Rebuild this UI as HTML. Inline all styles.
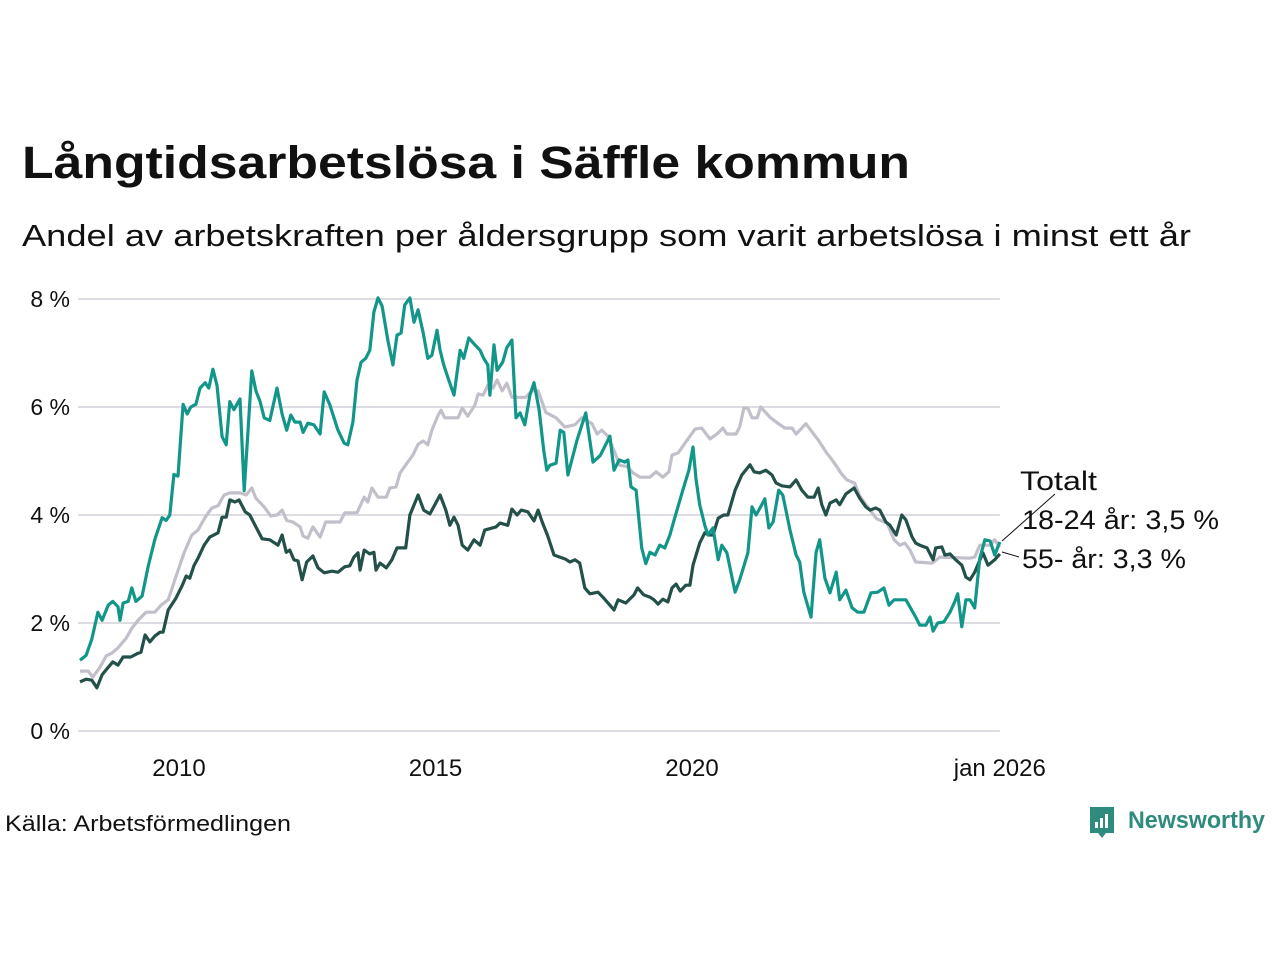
<!DOCTYPE html>
<html><head><meta charset="utf-8">
<style>
html,body{margin:0;padding:0;background:#fff;}
body{width:1280px;height:960px;overflow:hidden;font-family:"Liberation Sans","DejaVu Sans",sans-serif;}
svg text{font-family:"Liberation Sans","DejaVu Sans",sans-serif;}
</style></head>
<body>
<svg id="chart" width="1280" height="960" viewBox="0 0 1280 960" xmlns="http://www.w3.org/2000/svg">
<text x="22" y="178" font-size="45" font-weight="bold" fill="#111" textLength="888" lengthAdjust="spacingAndGlyphs">Långtidsarbetslösa i Säffle kommun</text>
<text x="22" y="246" font-size="31" fill="#111" textLength="1169" lengthAdjust="spacingAndGlyphs">Andel av arbetskraften per åldersgrupp som varit arbetslösa i minst ett år</text>
<g id="grid"></g>
<g id="yticks"></g>
<g id="xticks"></g>
<g id="series"></g>
<line x1="1002" y1="541" x2="1055" y2="494" stroke="#111" stroke-width="1"/>
<line x1="1002" y1="552" x2="1019" y2="557" stroke="#111" stroke-width="1"/>
<text x="1020" y="490" font-size="27" fill="#111" textLength="77" lengthAdjust="spacingAndGlyphs">Totalt</text>
<text x="1022" y="529" font-size="27" fill="#111" textLength="197" lengthAdjust="spacingAndGlyphs">18-24 år: 3,5 %</text>
<text x="1022" y="568" font-size="27" fill="#111" textLength="164" lengthAdjust="spacingAndGlyphs">55- år: 3,3 %</text>
<text x="5" y="831" font-size="22" fill="#111" textLength="286" lengthAdjust="spacingAndGlyphs">Källa: Arbetsförmedlingen</text>
<g>
<path d="M1090 807 h24 v26 h-8 l-4 5 l-4 -5 h-8 z" fill="#2e8b7e"/>
<rect x="1095" y="822" width="3" height="6" fill="#fff"/>
<rect x="1100" y="818" width="3" height="10" fill="#fff"/>
<rect x="1105" y="814" width="3" height="14" fill="#fff"/>
<text x="1128" y="828" font-size="24" font-weight="bold" fill="#2e8b7e" textLength="137" lengthAdjust="spacingAndGlyphs">Newsworthy</text>
</g>
</svg>
<script>
// years since 2000 / values in %
const datesYoung=[8.07,8.19,8.30,8.42,8.50,8.62,8.71,8.81,8.85,8.91,9.01,9.08,9.16,9.28,9.40,9.53,9.67,9.75,9.82,9.90,9.98,10.08,10.16,10.23,10.33,10.41,10.51,10.58,10.66,10.74,10.84,10.92,10.99,11.07,11.19,11.27,11.42,11.50,11.58,11.66,11.77,11.91,12.01,12.10,12.18,12.26,12.36,12.42,12.51,12.63,12.75,12.83,12.94,13.10,13.22,13.29,13.39,13.47,13.55,13.64,13.72,13.80,13.88,13.96,14.07,14.17,14.25,14.33,14.40,14.50,14.58,14.66,14.76,14.85,14.93,15.03,15.09,15.16,15.24,15.36,15.48,15.55,15.65,15.77,15.87,15.94,16.02,16.06,16.14,16.20,16.31,16.39,16.49,16.57,16.65,16.74,16.84,16.92,17.02,17.11,17.17,17.23,17.35,17.43,17.50,17.58,17.76,17.93,18.07,18.21,18.40,18.48,18.58,18.69,18.75,18.81,18.91,19.02,19.10,19.18,19.28,19.37,19.47,19.57,19.65,19.82,19.94,20.02,20.08,20.15,20.25,20.31,20.41,20.51,20.58,20.68,20.84,20.93,21.09,21.17,21.25,21.36,21.42,21.50,21.58,21.69,21.77,21.91,22.03,22.10,22.18,22.32,22.42,22.49,22.59,22.69,22.81,22.88,23.00,23.12,23.23,23.35,23.49,23.62,23.74,23.84,23.94,24.17,24.36,24.44,24.56,24.64,24.70,24.79,24.91,25.03,25.12,25.18,25.26,25.34,25.42,25.51,25.61,25.71,25.81,25.90,26.00];
const valuesYoung=[1.31,1.4,1.7,2.2,2.05,2.33,2.4,2.3,2.05,2.37,2.4,2.65,2.4,2.5,3.05,3.55,3.95,3.9,4.0,4.75,4.72,6.05,5.87,6.0,6.05,6.35,6.45,6.35,6.7,6.4,5.45,5.3,6.1,5.95,6.15,4.45,6.67,6.3,6.1,5.8,5.75,6.35,5.87,5.57,5.85,5.72,5.72,5.53,5.7,5.67,5.5,6.28,6.04,5.57,5.33,5.3,5.72,6.5,6.83,6.9,7.05,7.76,8.02,7.87,7.24,6.78,7.33,7.37,7.89,8.02,7.57,7.8,7.37,6.9,6.96,7.42,7.05,6.78,6.55,6.22,7.05,6.9,7.28,7.15,7.05,6.9,6.78,6.22,7.15,6.68,6.83,7.1,7.24,5.8,5.89,5.67,6.22,6.45,5.95,5.2,4.83,4.92,4.96,5.57,5.53,4.74,5.39,5.89,4.98,5.1,5.46,4.83,5.02,4.98,5.02,4.52,4.46,3.39,3.1,3.31,3.26,3.44,3.39,3.63,3.9,4.46,4.83,5.26,4.65,4.19,3.81,3.63,3.76,3.17,3.44,3.3,2.57,2.8,3.3,4.15,4.0,4.19,4.3,3.76,3.87,4.46,4.37,3.72,3.26,3.13,2.57,2.11,3.31,3.54,2.83,2.56,2.94,2.43,2.61,2.28,2.2,2.2,2.56,2.57,2.65,2.33,2.43,2.43,2.11,1.96,1.96,2.11,1.85,2.0,2.02,2.2,2.39,2.54,1.93,2.43,2.43,2.28,3.2,3.54,3.52,3.26,3.5];
const datesTotal=[8.07,8.23,8.32,8.46,8.58,8.69,8.81,8.97,9.08,9.20,9.36,9.53,9.65,9.79,9.92,10.10,10.25,10.37,10.51,10.64,10.76,10.88,10.99,11.19,11.31,11.42,11.50,11.66,11.79,11.91,12.01,12.10,12.22,12.36,12.42,12.51,12.61,12.75,12.86,13.14,13.23,13.47,13.61,13.68,13.76,13.88,14.04,14.11,14.23,14.31,14.46,14.56,14.66,14.76,14.85,14.93,15.05,15.11,15.18,15.44,15.52,15.63,15.77,15.83,15.93,16.02,16.12,16.20,16.30,16.39,16.49,16.76,16.88,17.00,17.15,17.35,17.52,17.72,17.85,18.05,18.15,18.24,18.36,18.50,18.59,18.73,18.85,18.99,19.18,19.30,19.43,19.55,19.61,19.73,19.84,20.06,20.19,20.35,20.51,20.60,20.68,20.86,20.93,21.01,21.09,21.17,21.27,21.34,21.52,21.67,21.81,21.95,22.03,22.10,22.22,22.34,22.46,22.61,22.73,22.82,22.90,23.02,23.17,23.27,23.39,23.51,23.60,23.80,23.86,23.94,24.05,24.15,24.25,24.36,24.68,24.83,25.42,25.51,25.61,25.81,25.90,26.00];
const valuesTotal=[1.11,1.11,1.0,1.18,1.39,1.44,1.54,1.72,1.9,2.05,2.2,2.2,2.33,2.43,2.8,3.3,3.63,3.72,3.96,4.13,4.17,4.37,4.41,4.41,4.37,4.5,4.31,4.15,3.98,4.0,4.09,3.9,3.87,3.78,3.61,3.57,3.78,3.59,3.87,3.87,4.04,4.04,4.33,4.24,4.5,4.33,4.33,4.5,4.52,4.78,4.98,5.11,5.31,5.37,5.3,5.57,5.85,5.94,5.8,5.8,5.98,5.83,6.04,6.24,6.22,6.4,6.35,6.5,6.3,6.44,6.18,6.18,6.3,6.3,5.9,5.8,5.63,5.67,5.8,5.69,5.5,5.57,5.46,5.15,4.92,4.9,4.78,4.7,4.7,4.8,4.7,4.8,5.11,5.15,5.3,5.59,5.61,5.41,5.52,5.61,5.5,5.5,5.63,5.98,5.98,5.8,5.8,6.0,5.81,5.7,5.61,5.61,5.5,5.57,5.69,5.54,5.39,5.17,5.02,4.9,4.78,4.65,4.59,4.35,4.19,4.04,3.93,3.85,3.72,3.54,3.44,3.48,3.35,3.13,3.11,3.22,3.2,3.22,3.44,3.44,3.54,3.4];
const datesOld=[8.07,8.19,8.30,8.40,8.50,8.62,8.71,8.81,8.91,9.06,9.18,9.26,9.34,9.43,9.53,9.63,9.69,9.79,9.94,10.06,10.14,10.21,10.29,10.37,10.49,10.60,10.76,10.84,10.92,10.99,11.09,11.17,11.29,11.38,11.50,11.62,11.77,11.93,12.01,12.09,12.16,12.24,12.32,12.40,12.49,12.61,12.71,12.83,12.98,13.10,13.23,13.33,13.41,13.49,13.53,13.61,13.72,13.80,13.84,13.92,14.04,14.15,14.25,14.42,14.50,14.66,14.77,14.89,15.09,15.20,15.28,15.36,15.44,15.52,15.63,15.75,15.87,15.96,16.18,16.26,16.41,16.49,16.59,16.67,16.80,16.92,17.00,17.08,17.19,17.31,17.54,17.62,17.72,17.81,17.91,18.01,18.17,18.28,18.40,18.48,18.56,18.71,18.87,18.94,19.06,19.18,19.26,19.34,19.43,19.53,19.61,19.69,19.77,19.88,19.96,20.02,20.15,20.25,20.33,20.41,20.51,20.62,20.70,20.84,20.97,21.13,21.21,21.32,21.44,21.56,21.64,21.75,21.91,22.03,22.14,22.26,22.38,22.46,22.53,22.61,22.69,22.81,22.88,23.00,23.16,23.27,23.39,23.47,23.58,23.66,23.78,23.86,23.98,24.09,24.17,24.29,24.36,24.44,24.58,24.70,24.75,24.87,24.93,25.03,25.14,25.26,25.34,25.42,25.51,25.67,25.77,25.90,26.00];
const valuesOld=[0.91,0.96,0.94,0.8,1.04,1.18,1.28,1.22,1.37,1.37,1.43,1.46,1.78,1.65,1.76,1.83,1.83,2.24,2.46,2.69,2.87,2.83,3.06,3.2,3.44,3.59,3.67,3.96,3.96,4.28,4.24,4.28,4.06,4.0,3.78,3.56,3.54,3.44,3.63,3.31,3.35,3.17,3.15,2.8,3.13,3.24,3.02,2.93,2.96,2.94,3.04,3.06,3.22,3.3,2.98,3.35,3.28,3.31,2.98,3.11,3.02,3.17,3.39,3.39,4.0,4.37,4.09,4.02,4.37,4.09,3.81,3.96,3.81,3.44,3.35,3.54,3.44,3.72,3.78,3.85,3.81,4.11,4.0,4.09,4.06,3.89,4.09,3.87,3.61,3.26,3.18,3.13,3.17,3.11,2.65,2.54,2.57,2.46,2.33,2.24,2.43,2.37,2.52,2.65,2.52,2.48,2.43,2.35,2.44,2.39,2.65,2.72,2.59,2.7,2.7,3.07,3.48,3.67,3.63,3.63,3.94,4.0,4.0,4.46,4.74,4.93,4.8,4.78,4.83,4.74,4.59,4.54,4.52,4.65,4.46,4.33,4.33,4.5,4.19,4.0,4.22,4.28,4.19,4.39,4.5,4.31,4.15,4.09,4.13,4.09,3.87,3.81,3.63,4.0,3.91,3.59,3.48,3.44,3.39,3.17,3.39,3.41,3.26,3.28,3.17,3.07,2.85,2.8,2.94,3.3,3.07,3.17,3.28];
const yTicks=[0,2,4,6,8];
const yTickLabels=["0 %","2 %","4 %","6 %","8 %"];
const xTicks=[10,15,20,26];
const xTickLabels=["2010","2015","2020","jan 2026"];

const NS="http://www.w3.org/2000/svg";
const X0=76.4, PXY=51.3, Y0=731, PXV=54;
function sx(t){return X0+(t-8)*PXY;}
function sy(v){return Y0-v*PXV;}
function mk(tag,attrs,parent){const e=document.createElementNS(NS,tag);for(const k in attrs)e.setAttribute(k,attrs[k]);parent.appendChild(e);return e;}
const grid=document.getElementById('grid'), yg=document.getElementById('yticks'), xg=document.getElementById('xticks'), sg=document.getElementById('series');
yTicks.forEach((v,i)=>{
  const l=mk('line',{x1:78,x2:1000,y1:sy(v),y2:sy(v),stroke:'#dedce3','stroke-width':2},grid);
  
  
  const t=mk('text',{x:70,y:sy(v)+8,'text-anchor':'end','font-size':23,fill:'#111'},yg);
  
  
  t.textContent=yTickLabels[i];
});
xTicks.forEach((t0,i)=>{
  const t=mk('text',{x:sx(t0),y:776,'text-anchor':'middle','font-size':24,fill:'#111'},xg);
  
  
  t.textContent=xTickLabels[i];
});
function line(d,v,color,name){
  const pts=d.map((t,i)=>sx(t).toFixed(1)+','+sy(v[i]).toFixed(1)).join(' ');
  const p=mk('polyline',{points:pts,fill:'none',stroke:color,'stroke-width':3.2,'stroke-linejoin':'round'},sg);
  
  
}
line(datesTotal,valuesTotal,'#c2bfca','line-totalt');
line(datesOld,valuesOld,'#24504a','line-55');
line(datesYoung,valuesYoung,'#13968a','line-18-24');
</script>
</body></html>
